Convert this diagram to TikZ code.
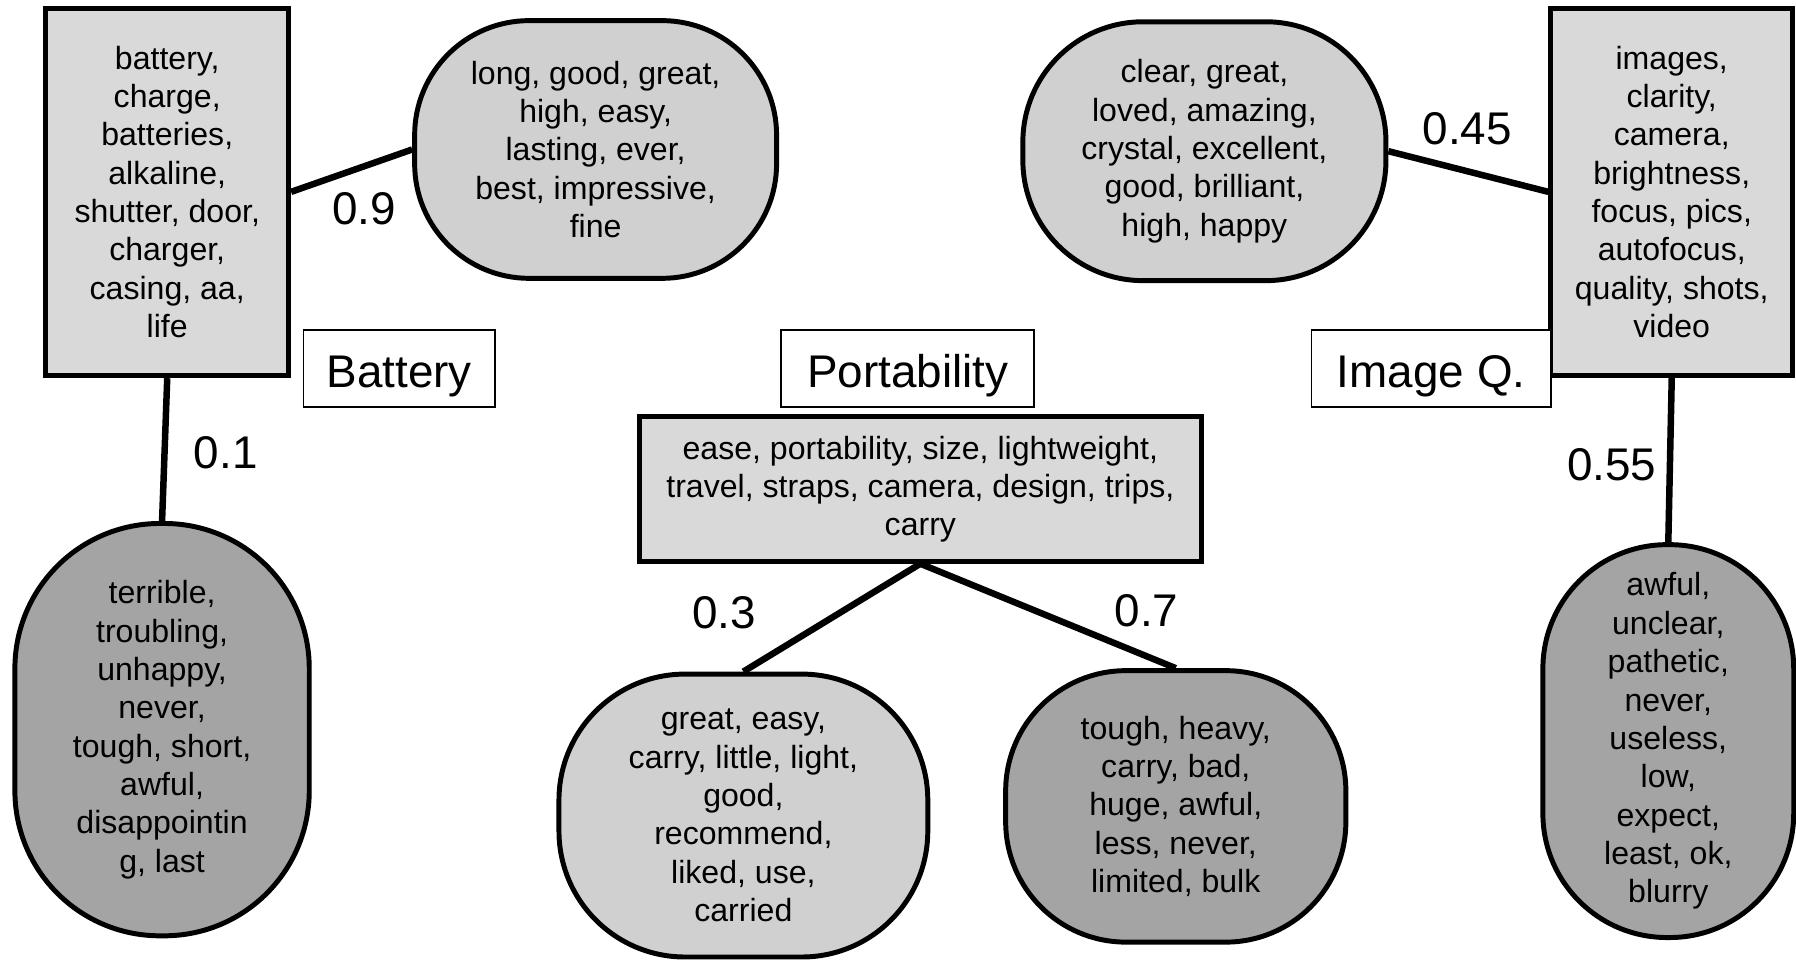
\documentclass[tikz,border=0pt]{standalone}
\usepackage{fontspec}
\setmainfont{Liberation Sans}
\definecolor{boxgray}{RGB}{217,217,217}
\definecolor{posgray}{RGB}{208,208,208}
\definecolor{neggray}{RGB}{164,164,164}
\begin{document}
\begin{tikzpicture}[x=0.6pt,y=-0.6pt,
  words/.style={align=center,inner sep=0pt,font=\fontsize{16.8}{20.1}\selectfont},
  topicbox/.style={words,draw,line width=2.6pt,fill=boxgray},
  sentpos/.style={words,draw,line width=2.6pt,fill=posgray},
  sentneg/.style={words,draw,line width=2.6pt,fill=neggray},
  tagbox/.style={draw,line width=1pt,fill=white,inner sep=0pt,
    text height=20.2pt,text depth=0pt,
    minimum height=40.2pt,font=\fontsize{24}{28}\selectfont},
  weight/.style={inner sep=0pt,font=\fontsize{24}{28}\selectfont},
  link/.style={line width=3.4pt}]
\useasboundingbox (0,0) rectangle (1568,838);

% Battery aspect
\node[topicbox,minimum width=127.2pt,minimum height=192.6pt] (batbox) at (146,167.5)
  {battery,\\charge,\\batteries,\\alkaline,\\shutter, door,\\charger,\\casing, aa,\\life};
\node[sentpos,minimum width=189.6pt,minimum height=135pt,rounded corners=60pt] (batpos) at (520,130.5)
  {long, good, great,\\high, easy,\\lasting, ever,\\best, impressive,\\fine};
\node[sentneg,minimum width=154.2pt,minimum height=216pt,rounded corners=76pt] (batneg) at (141.5,637)
  {terrible,\\troubling,\\unhappy,\\never,\\tough, short,\\awful,\\disappointin\\g, last};
\node[tagbox,minimum width=100.2pt] (battag) at (348.5,321.5) {Battery};

% Portability aspect
\node[tagbox,minimum width=132.6pt] (porttag) at (792.5,321.5) {Portability};
\node[topicbox,minimum width=294.6pt,minimum height=75.6pt] (portbox) at (803.5,427)
  {ease, portability, size, lightweight,\\travel, straps, camera, design, trips,\\carry};
\node[sentpos,minimum width=193.2pt,minimum height=148.2pt,rounded corners=66pt] (portpos) at (649,712)
  {great, easy,\\carry, little, light,\\good,\\recommend,\\liked, use,\\carried};
\node[sentneg,minimum width=178.2pt,minimum height=142.2pt,rounded corners=63pt] (portneg) at (1026.5,704)
  {tough, heavy,\\carry, bad,\\huge, awful,\\less, never,\\limited, bulk};

% Image quality aspect
\node[sentpos,minimum width=190.2pt,minimum height=135.6pt,rounded corners=63pt] (iqpos) at (1051.5,132)
  {clear, great,\\loved, amazing,\\crystal, excellent,\\good, brilliant,\\high, happy};
\node[topicbox,minimum width=126.6pt,minimum height=192.6pt] (iqbox) at (1459.5,167.5)
  {images,\\clarity,\\camera,\\brightness,\\focus, pics,\\autofocus,\\quality, shots,\\video};
\node[tagbox,minimum width=125.4pt] (iqtag) at (1249.5,321.5) {Image Q.};
\node[sentneg,minimum width=131.4pt,minimum height=205.8pt,rounded corners=65pt] (iqneg) at (1456.5,647)
  {awful,\\unclear,\\pathetic,\\never,\\useless,\\low,\\expect,\\least, ok,\\blurry};

% Weighted links
\draw[link] (batbox.east) -- (batpos.west);
\draw[link] (batbox.south) -- (batneg.north);
\draw[link] (portbox.south) -- (portpos.north);
\draw[link] (portbox.south) -- (portneg.north);
\draw[link] (iqpos.east) -- (iqbox.west);
\draw[link] (iqbox.south) -- (iqneg.north);

\node[weight] (w09) at (318,182) {0.9};
\node[weight] (w01) at (197,395) {0.1};
\node[weight] (w03) at (632,535) {0.3};
\node[weight] (w07) at (1001,533) {0.7};
\node[weight] (w045) at (1281,112) {0.45};
\node[weight] (w055) at (1407,406) {0.55};
\end{tikzpicture}
\end{document}
